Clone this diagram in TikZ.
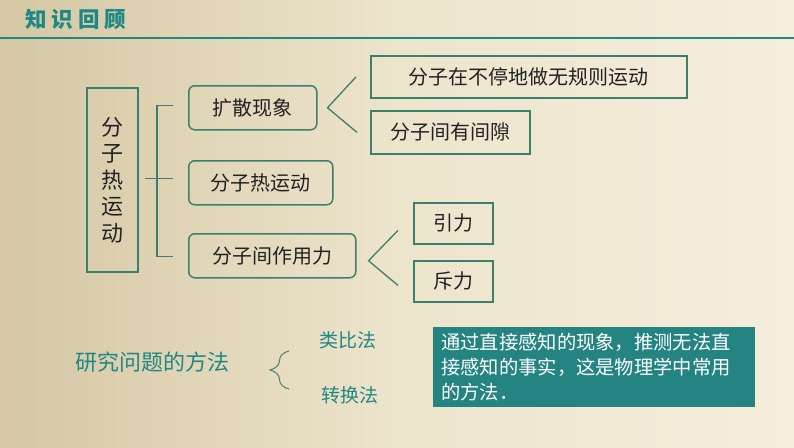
\documentclass[tikz,border=0pt]{standalone}
\usepackage{fontspec}
\newfontfamily\cjk{Noto Sans CJK SC}
\usetikzlibrary{positioning,calc,decorations.pathreplacing}
\definecolor{bgl}{HTML}{D5C7A3}
\definecolor{bgm}{HTML}{EDE4CC}
\definecolor{bgr}{HTML}{F5EEDC}
\definecolor{tealtxt}{HTML}{1E8886}
\definecolor{edge}{HTML}{3A806C}
\definecolor{notefill}{HTML}{238481}
\definecolor{ink}{HTML}{222222}
\tikzset{
  rbox/.style={draw=edge,line width=1.5pt,rounded corners=6pt,inner sep=0pt,
    anchor=north west,text=ink,font=\cjk\fontsize{20}{24}\selectfont},
  sbox/.style={draw=edge,line width=1.8pt,inner sep=0pt,
    anchor=north west,text=ink,font=\cjk\fontsize{20}{24}\selectfont},
  link/.style={draw=edge,line width=1.3pt},
  method/.style={text=tealtxt,inner sep=0pt,font=\cjk\fontsize{19}{22}\selectfont}
}
\begin{document}
\begin{tikzpicture}[x=1pt,y=-1pt]
  \useasboundingbox (0,0) rectangle (794,447);
  \shade[left color=bgl,right color=bgr,middle color=bgm] (0,0) rectangle (794,447);
  % title
  \node[anchor=west,inner sep=0pt,text=tealtxt,font=\cjk\bfseries\fontsize{21.5}{24}\selectfont] (title) at (25,19)
    {知\hspace{5pt}识\hspace{5pt}回\hspace{5pt}顾};
  \draw[draw=tealtxt,line width=2pt] (0,38) -- (794,38);
  % tree
  \node[sbox,minimum width=51pt,minimum height=184pt,align=center,
    font=\cjk\fontsize{22}{26.5}\selectfont] (main) at (86,87) {分\\子\\热\\运\\动};
  \node[rbox,minimum width=128pt,minimum height=44pt] (kuosan) at (188,85) {扩散现象};
  \node[rbox,minimum width=144pt,minimum height=44pt] (rezd) at (188,160) {分子热运动};
  \node[rbox,minimum width=167pt,minimum height=44pt] (zuoyong) at (188,233) {分子间作用力};
  \node[sbox,minimum width=316pt,minimum height=42pt] (wuguize) at (370,55) {分子在不停地做无规则运动};
  \node[sbox,minimum width=159pt,minimum height=43pt] (jianxi) at (370,110) {分子间有间隙};
  \node[sbox,minimum width=79pt,minimum height=41pt] (yinli) at (413,202) {引力};
  \node[sbox,minimum width=79pt,minimum height=41pt] (chili) at (413,260) {斥力};

  \draw[link] ([xshift=-15pt,yshift=2pt]kuosan.west) -- +(-16pt,0) |- ([xshift=-15pt,yshift=-1pt]zuoyong.west);
  \draw[link] ([xshift=-43pt,yshift=4pt]rezd.west) -- ([xshift=-15pt,yshift=4pt]rezd.west);
  \draw[link] ([xshift=-14pt]wuguize.west) -- ([xshift=10pt]kuosan.east) -- ([xshift=-13pt]jianxi.west);
  \draw[link] ([xshift=-15pt,yshift=-7pt]yinli.west) -- ([xshift=12pt,yshift=-5pt]zuoyong.east)
    -- ([xshift=-15pt,yshift=-4pt]chili.west);
  % methods
  \node[text=tealtxt,inner sep=0pt,font=\cjk\fontsize{22}{26}\selectfont] (fangfa) at (152,362) {研究问题的方法};
  \node[method] (leibi) at (348,340) {类比法};
  \node[method] (zhuanhuan) at (350,395) {转换法};
  \coordinate (btop) at (289,351);
  \coordinate (bbot) at (289,389);
  \draw[draw=edge!80!gray,line width=1pt,decorate,decoration={brace,amplitude=19pt,aspect=0.5}] (bbot) -- (btop);
  \node[anchor=north west,fill=notefill,minimum width=322pt,minimum height=80pt,text width=306pt,
    inner xsep=8pt,inner ysep=0pt,align=left,text=white,font=\cjk\fontsize{19.3}{25}\selectfont] (note) at (433,327)
    {通过直接感知的现象，推测无法直\\接感知的事实，这是物理学中常用\\的方法．};
\end{tikzpicture}
\end{document}
